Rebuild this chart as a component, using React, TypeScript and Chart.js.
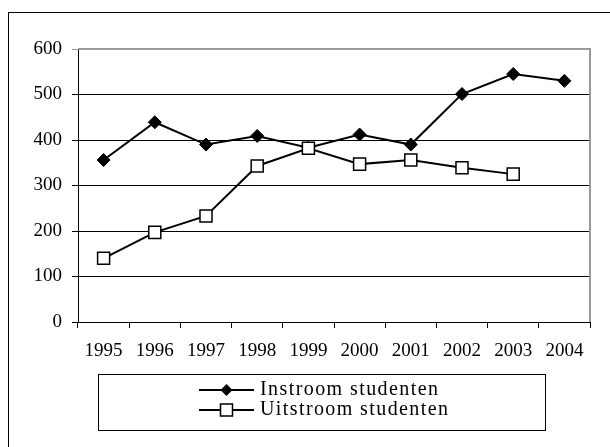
import React, { useEffect, useRef } from 'react';
import { Chart, registerables } from 'chart.js';

Chart.register(...registerables);

const years = ['1995', '1996', '1997', '1998', '1999', '2000', '2001', '2002', '2003', '2004'];
const instroom = [356, 439, 390, 409, 383, 412, 390, 501, 545, 530];
const uitstroom: (number | null)[] = [140, 197, 233, 343, 382, 347, 356, 339, 325, null];
const seriesNames = ['Instroom studenten', 'Uitstroom studenten'];
const yMin = 0;
const yMax = 600;
const yStep = 100;

const FONT = '"Liberation Serif", "Times New Roman", serif';

const framePlugin = {
  id: 'frame',
  beforeDraw(chart: any) {
    const ctx = chart.ctx;
    ctx.save();
    ctx.fillStyle = '#ffffff';
    ctx.fillRect(0, 0, chart.width, chart.height);
    ctx.strokeStyle = '#000000';
    ctx.lineWidth = 1;
    ctx.strokeRect(8.5, 12.5, chart.width + 10, chart.height + 10);
    ctx.restore();
  },
  beforeDatasetsDraw(chart: any) {
    const ctx = chart.ctx;
    const a = chart.chartArea;
    ctx.save();
    ctx.strokeStyle = '#999999';
    ctx.lineWidth = 2;
    ctx.beginPath();
    ctx.moveTo(a.left, a.top);
    ctx.lineTo(a.right, a.top);
    ctx.lineTo(a.right, a.bottom);
    ctx.stroke();
    ctx.restore();
  },
  afterDraw(chart: any) {
    const ctx = chart.ctx;
    ctx.save();
    ctx.strokeStyle = '#000000';
    ctx.lineWidth = 1;
    ctx.strokeRect(98.5, 374.5, 447, 56);
    const x0 = 199;
    const x1 = 254;
    const xm = (x0 + x1) / 2;
    const rows = [390, 410];
    const targetWidths = [178, 188];
    chart.data.datasets.forEach((ds: any, i: number) => {
      const y = rows[i];
      ctx.strokeStyle = '#000000';
      ctx.lineWidth = 2;
      ctx.beginPath();
      ctx.moveTo(x0, y);
      ctx.lineTo(x1, y);
      ctx.stroke();
      if (ds.pointStyle === 'rectRot') {
        const r = 6;
        ctx.fillStyle = '#000000';
        ctx.beginPath();
        ctx.moveTo(xm - r, y);
        ctx.lineTo(xm, y - r);
        ctx.lineTo(xm + r, y);
        ctx.lineTo(xm, y + r);
        ctx.closePath();
        ctx.fill();
      } else {
        const h = 6;
        ctx.fillStyle = '#ffffff';
        ctx.fillRect(xm - h, y - h, 2 * h, 2 * h);
        ctx.lineWidth = 1.5;
        ctx.strokeRect(xm - h, y - h, 2 * h, 2 * h);
      }
      ctx.fillStyle = '#000000';
      ctx.font = '20px ' + FONT;
      (ctx as any).letterSpacing = '0px';
      const w = ctx.measureText(ds.label).width;
      const n = ds.label.length - 1;
      const sp = Math.max(0, (targetWidths[i] - w) / n);
      (ctx as any).letterSpacing = sp.toFixed(2) + 'px';
      ctx.textAlign = 'left';
      ctx.textBaseline = 'alphabetic';
      ctx.fillText(ds.label, 260, y + 5);
    });
    ctx.restore();
  },
};

export default function App() {
  const ref = useRef<HTMLCanvasElement | null>(null);

  useEffect(() => {
    document.body.style.margin = '0';
    const canvas = ref.current;
    if (!canvas) return;
    const chart = new Chart(canvas, {
      type: 'line',
      data: {
        labels: years,
        datasets: [
          {
            label: seriesNames[0],
            data: instroom,
            order: 1,
            borderColor: '#000000',
            borderWidth: 2,
            backgroundColor: '#000000',
            pointStyle: 'rectRot',
            pointRadius: 6.5,
            pointBorderWidth: 1,
            pointBackgroundColor: '#000000',
            pointBorderColor: '#000000',
            tension: 0,
            clip: false as any,
          },
          {
            label: seriesNames[1],
            data: uitstroom,
            order: 0,
            borderColor: '#000000',
            borderWidth: 2,
            backgroundColor: '#ffffff',
            pointStyle: 'rect',
            pointRadius: 8.5,
            pointBorderWidth: 1.5,
            pointBackgroundColor: '#ffffff',
            pointBorderColor: '#000000',
            tension: 0,
            clip: false as any,
          },
        ],
      },
      options: {
        animation: false,
        responsive: false,
        devicePixelRatio: 1,
        layout: { padding: { left: 0, top: 49, right: 20, bottom: 0 } },
        plugins: {
          legend: { display: false },
          tooltip: { enabled: false },
        },
        scales: {
          x: {
            type: 'category',
            offset: true,
            grid: {
              offset: true,
              drawOnChartArea: false,
              drawTicks: true,
              tickLength: 6,
              color: '#000000',
              lineWidth: 1,
            },
            border: { display: true, color: '#000000', width: 1 },
            ticks: {
              color: '#000000',
              font: { family: FONT, size: 19 },
              padding: 12,
              maxRotation: 0,
              autoSkip: false,
            },
            afterFit: (scale: any) => {
              scale.height = 125;
            },
          },
          y: {
            min: yMin,
            max: yMax,
            grid: {
              color: (c: any) => (c.tick && c.tick.value === yMax ? '#999999' : '#000000'),
              lineWidth: 1,
              drawTicks: true,
              tickLength: 6,
            },
            border: { display: true, color: '#000000', width: 1 },
            ticks: {
              stepSize: yStep,
              color: '#000000',
              font: { family: FONT, size: 19 },
              padding: 10,
            },
            afterFit: (scale: any) => {
              scale.width = 78;
            },
          },
        },
      },
      plugins: [framePlugin],
    });
    return () => chart.destroy();
  }, []);

  return (
    <div style={{ width: 610, height: 447 }}>
      <canvas ref={ref} width={610} height={447} style={{ display: 'block' }} />
    </div>
  );
}
